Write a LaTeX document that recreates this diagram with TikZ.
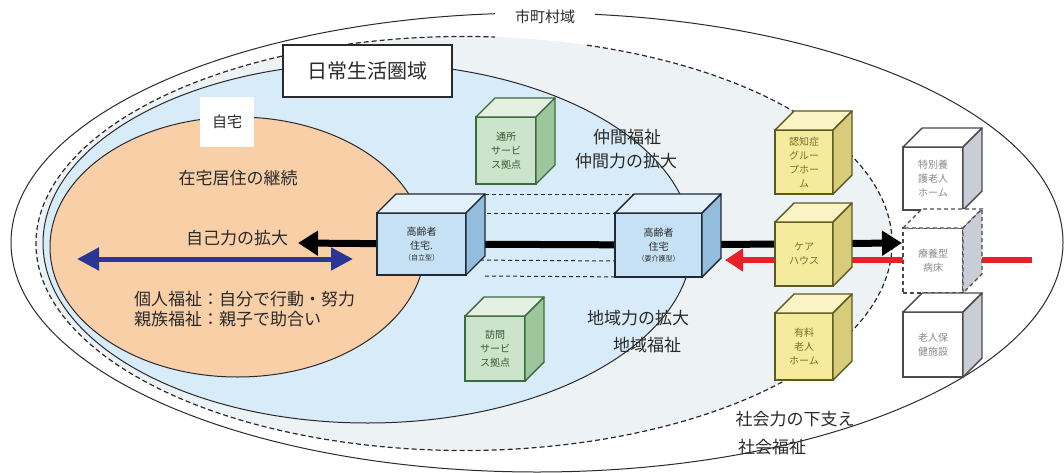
\documentclass[tikz,border=0pt]{standalone}
\usepackage{fontspec}
\setmainfont{Noto Sans CJK JP}
\usetikzlibrary{arrows.meta}
\definecolor{ink}{HTML}{2A2A2A}
\definecolor{regfill}{HTML}{EDF3F4}
\definecolor{bluefill}{HTML}{D7EBF8}
\definecolor{orangefill}{HTML}{F9CFA7}
\definecolor{navyarrow}{HTML}{2B3596}
\definecolor{redarrow}{HTML}{E8202A}
\definecolor{bfront}{HTML}{C7E1F4}
\definecolor{btop}{HTML}{E3F1FB}
\definecolor{bside}{HTML}{94BCDD}
\definecolor{bedge}{HTML}{1E2836}
\definecolor{gfront}{HTML}{CDE4CC}
\definecolor{gtop}{HTML}{E4F1E2}
\definecolor{gside}{HTML}{9EC69C}
\definecolor{gedge}{HTML}{3D6B3D}
\definecolor{gtext}{HTML}{2F5A2F}
\definecolor{yfront}{HTML}{F4EC9C}
\definecolor{ytop}{HTML}{FAF4C4}
\definecolor{yside}{HTML}{D6CC7A}
\definecolor{yedge}{HTML}{5E5A22}
\definecolor{ytext}{HTML}{7A7030}
\definecolor{wside}{HTML}{C9CDD6}
\definecolor{wedge}{HTML}{4A4A4A}
\definecolor{wtext}{HTML}{8A8A8A}
\newcommand\cubefaces[5]{%
  \filldraw[fill=#3,draw=#5,line width=1.4pt,line join=round]
    (#1.north west) -- ++(#2,-#2) -- ([shift={(#2pt,#2pt)}]#1.north east) -- (#1.north east) -- cycle;
  \filldraw[fill=#4,draw=#5,line width=1.4pt,line join=round]
    (#1.north east) -- ([shift={(#2pt,#2pt)}]#1.north east) -- ([shift={(#2pt,#2pt)}]#1.south east) -- (#1.south east) -- cycle;
}
\begin{document}
\begin{tikzpicture}[x=1pt,y=-1pt,
  lbl/.style={font=\fontsize{17}{20}\selectfont, text=ink, inner sep=0pt},
  cubetxt/.style={font=\fontsize{10}{14}\selectfont, align=center, inner sep=0pt, outer sep=0pt, line width=1.4pt},
  bluecube/.style={cubetxt, draw=bedge, fill=bfront, text=ink},
  greencube/.style={cubetxt, draw=gedge, fill=gfront, text=gtext, minimum width=60pt},
  yellowcube/.style={cubetxt, draw=yedge, fill=yfront, text=ytext, minimum width=58pt},
  whitecube/.style={cubetxt, draw=wedge, fill=white, text=wtext, minimum width=60pt},
  dashline/.style={dash pattern=on 5pt off 3pt, line width=1.2pt, draw=ink},
  tubeline/.style={dash pattern=on 4pt off 3pt, line width=1pt, draw=ink},
  thinline/.style={line width=1pt, draw=ink},
  fatarrow/.style={line width=7pt, -{Triangle[length=20pt,width=24pt]}},
]
\useasboundingbox (0,0) rectangle (1064,473);
\fill[white] (0,0) rectangle (1064,473);

% ---- regions ----
\fill[regfill] (464,243.5) ellipse [x radius=428, y radius=207];
\draw[thinline] (537,242.5) ellipse [x radius=526, y radius=229.5];
\draw[dashline] (587,45.2) arc[start angle=286.7, end angle=634.15, x radius=428, y radius=207];
\filldraw[fill=bluefill, thinline] (367.5,243) ellipse [x radius=324.5, y radius=180];
\filldraw[fill=orangefill, thinline] (237.5,247) ellipse [x radius=187.5, y radius=130];

% ---- labels on region borders ----
\node[lbl, fill=white, minimum width=100pt, minimum height=22pt, font=\fontsize{15}{18}\selectfont] (shi) at (545,17) {市町村域};
\node[draw=ink, line width=1.2pt, fill=white, minimum width=169pt, minimum height=52pt, inner sep=0pt, font=\fontsize{20}{24}\selectfont, text=ink] (nichijo) at (367.5,71) {日常生活圏域};
\node[fill=white, minimum width=54pt, minimum height=50pt, inner sep=0pt, font=\fontsize{15}{18}\selectfont, text=ink] (jitaku) at (227,122) {自宅};

% ---- coordinates for arrows ----
\coordinate (ltip) at (298,243);
\coordinate (rtip) at (902,243);
\coordinate (redstart) at (1032,260);
\coordinate (redtip) at (725,260);
\coordinate (bl) at (77,259);
\coordinate (br) at (353,259);

% ---- housing cube outlines (for arrows) ----
\path (421.5,244) node[bluecube, draw=none, fill=none, minimum width=89pt, minimum height=62pt] (h1) {};
\path (658.5,245) node[bluecube, draw=none, fill=none, minimum width=87pt, minimum height=64pt] (h2) {};

% ---- arrows behind cubes ----
\draw[line width=7pt, draw=black] (h1.center) -- (h2.center);
\draw[fatarrow, draw=black, fill=black] (h1.center) -- (ltip);
\draw[fatarrow, draw=black, fill=black] (h2.center) -- (rtip);
\draw[line width=6pt, draw=redarrow, -{Triangle[length=18pt,width=22pt]}] (redstart) -- (redtip);

% ---- dashed tube between housing cubes ----
\draw[tubeline] ([shift={(19pt,19pt)}]h1.north east) -- ([shift={(19pt,19pt)}]h2.north west);
\draw[tubeline] (h1.north east) -- (h2.north west);
\draw[tubeline] ([yshift=-16pt]h1.east) -- ([yshift=-16pt]h2.west);
\draw[tubeline] ([shift={(19pt,-32pt)}]h1.east) -- ([shift={(15pt,-32pt)}]h2.west);

% ---- housing cubes ----
\node[bluecube, minimum width=89pt, minimum height=62pt] (c1) at (421.5,244) {高齢者\\住宅.\\[-3pt]{\fontsize{7}{9}\selectfont （自立型）}};
\cubefaces{c1}{19}{btop}{bside}{bedge}
\node[bluecube, minimum width=87pt, minimum height=64pt] (c2) at (658.5,245) {高齢者\\住宅\\[-3pt]{\fontsize{7}{9}\selectfont （要介護型）}};
\cubefaces{c2}{19}{btop}{bside}{bedge}

% ---- green cubes ----
\node[greencube, minimum height=67pt] (g1) at (506,150.5) {通所\\サービ\\ス拠点};
\cubefaces{g1}{19}{gtop}{gside}{gedge}
\node[greencube, minimum height=65pt] (g2) at (495,348.5) {訪問\\サービ\\ス拠点};
\cubefaces{g2}{19}{gtop}{gside}{gedge}

% ---- yellow cubes ----
\node[yellowcube, minimum height=64pt] (y1) at (804,162) {認知症\\グルー\\プホー\\ム};
\cubefaces{y1}{19}{ytop}{yside}{yedge}
\node[yellowcube, minimum height=64pt] (y2) at (804,254) {ケア\\ハウス};
\cubefaces{y2}{19}{ytop}{yside}{yedge}
\node[yellowcube, minimum height=67pt] (y3) at (804,346.5) {有料\\老人\\ホーム};
\cubefaces{y3}{19}{ytop}{yside}{yedge}

% ---- white cubes ----
\node[whitecube, minimum height=63pt] (w1) at (933,178.5) {特別養\\護老人\\ホーム};
\cubefaces{w1}{19}{white}{wside}{wedge}
\node[whitecube, minimum height=65pt, dash pattern=on 4pt off 3pt, line width=1.2pt] (w2) at (933,260.5) {療養型\\病床};
\filldraw[fill=white, draw=wedge, line width=1.2pt, dash pattern=on 4pt off 3pt]
  (w2.north west) -- ++(19,-19) -- ([shift={(19pt,19pt)}]w2.north east) -- (w2.north east) -- cycle;
\filldraw[fill=wside, draw=wedge, line width=1.2pt, dash pattern=on 4pt off 3pt]
  (w2.north east) -- ([shift={(19pt,19pt)}]w2.north east) -- ([shift={(19pt,19pt)}]w2.south east) -- (w2.south east) -- cycle;
\node[whitecube, minimum height=65pt] (w3) at (933,344.5) {老人保\\健施設};
\cubefaces{w3}{19}{white}{wside}{wedge}

% ---- blue double arrow ----
\draw[line width=5pt, draw=navyarrow, {Triangle[length=22pt,width=22pt]}-{Triangle[length=22pt,width=22pt]}] (bl) -- (br);

% ---- texts ----
\node[lbl] (t1) at (238,178) {在宅居住の継続};
\node[lbl] (t2) at (237,238) {自己力の拡大};
\node[lbl, anchor=west] (t3) at (134,299) {個人福祉：自分で行動・努力};
\node[lbl, anchor=west] (t4) at (134,319) {親族福祉：親子で助合い};
\node[lbl] (t5) at (627,137) {仲間福祉};
\node[lbl] (t6) at (626,161) {仲間力の拡大};
\node[lbl] (t7) at (638,318) {地域力の拡大};
\node[lbl] (t8) at (647,345) {地域福祉};
\node[lbl] (t9) at (795,419) {社会力の下支え};
\node[lbl] (t10) at (772,447) {社会福祉};
\end{tikzpicture}
\end{document}
